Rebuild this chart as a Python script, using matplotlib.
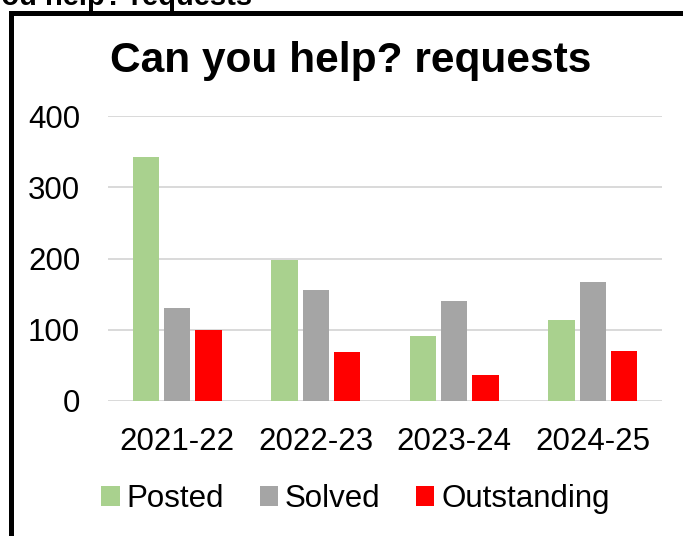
import matplotlib
matplotlib.use("Agg")
import matplotlib.pyplot as plt
import matplotlib.patches as mpatches
import numpy as np

plt.rcParams['font.family'] = ['Liberation Sans', 'DejaVu Sans']

categories = ["2021-22", "2022-23", "2023-24", "2024-25"]
posted = [342, 198, 91, 113]
solved = [131, 156, 140, 167]
outstanding = [99, 69, 37, 70]
series_names = ["Posted", "Solved", "Outstanding"]
colors = ["#A9D18E", "#A5A5A5", "#FF0000"]
yticks = [0, 100, 200, 300, 400]

W, H = 683, 536
fig = plt.figure(figsize=(W / 100, H / 100), dpi=100)

ax = fig.add_axes([108 / W, 1 - 401 / H, (662 - 108) / W, (401 - 116) / H])
x = np.arange(len(categories))
width = 0.19
off = 0.225
for i, (vals, name, c) in enumerate(zip([posted, solved, outstanding], series_names, colors)):
    ax.bar(x + (i - 1) * off, vals, width=width, color=c, label=name, zorder=3)

ax.set_xlim(-0.5, len(categories) - 0.5)
ax.set_ylim(0, 400)
ax.set_yticks(yticks)
ax.set_yticklabels([str(v) for v in yticks])
ax.set_xticks(x)
ax.set_xticklabels(categories)
ax.tick_params(axis='both', length=0, labelsize=22.5, colors='black')
ax.tick_params(axis='y', pad=20)
ax.tick_params(axis='x', pad=19)
ax.grid(axis='y', color='#d9d9d9', linewidth=1.4, zorder=0)
ax.set_axisbelow(True)
for s in ax.spines.values():
    s.set_visible(False)

leg = fig.legend(loc='center', bbox_to_anchor=(355.5 / W, 1 - 499 / H), ncol=3,
                 frameon=False, fontsize=22.5, handlelength=0.58, handleheight=0.58,
                 handletextpad=0.23, columnspacing=1.13)

fig.text(351 / W, 1 - 72 / H, "Can you help? requests", ha='center', va='baseline',
         fontsize=30.6, fontweight='bold')

# partially cut-off text at the very top (as in the reference)
fig.text(252 / W, 1 - 5 / H, "Can you help? requests", ha='right', va='baseline',
         fontsize=21, fontweight='bold')

# black frame extending beyond the figure edges
frame = mpatches.Rectangle((10.5 / W, -0.1), 1.2, 1 - 12.5 / H + 0.1,
                           transform=fig.transFigure, fill=False,
                           edgecolor='black', linewidth=3.6, clip_on=False)
fig.patches.append(frame)

fig.savefig("out.png", dpi=100)
